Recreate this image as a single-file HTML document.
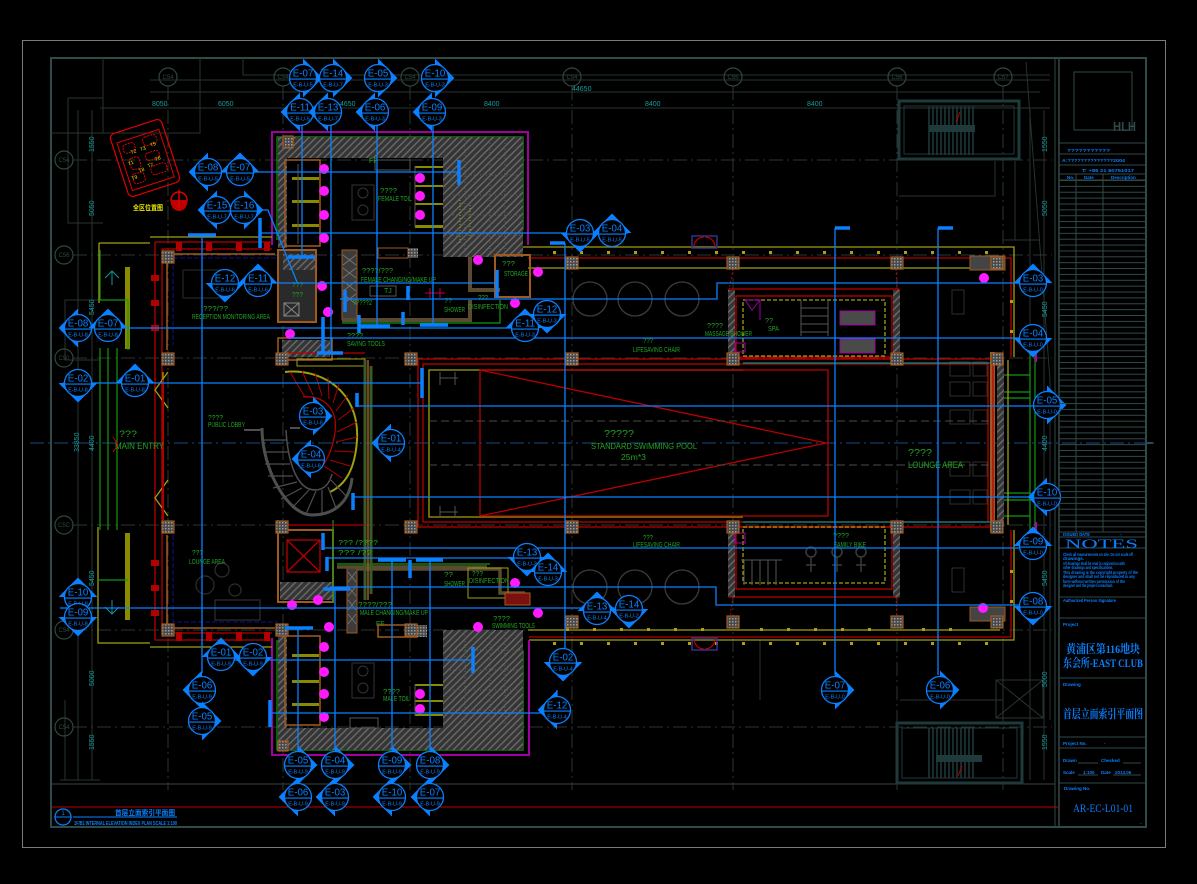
<!DOCTYPE html>
<html><head><meta charset="utf-8">
<style>
html,body{margin:0;padding:0;background:#000;width:1197px;height:884px;overflow:hidden}
svg{display:block}
.b{stroke:#0a80ff;stroke-width:1.3;fill:none}
.bb{stroke:#0a80ff;stroke-width:3.5;fill:none}
.mk .t{fill:#0a80ff}
.mk circle{fill:#000;stroke:#0a80ff;stroke-width:1.2}
.mk line{stroke:#0a80ff;stroke-width:1}
.mk text{fill:#0a80ff;font-family:"Liberation Sans",sans-serif;text-anchor:middle}
.g{fill:#23a323;font-family:"Liberation Sans",sans-serif;font-size:7px}
.d{fill:#1a9c9c;font-family:"Liberation Sans",sans-serif;font-size:7px}
.tb{fill:#0a80ff;font-family:"Liberation Sans",sans-serif;font-size:4.5px;font-weight:bold}
.grid{stroke:#2c3633;stroke-width:1;stroke-dasharray:14 4 2 4;fill:none}
.dim{stroke:#27332f;stroke-width:1;fill:none}
.red{stroke:#b80000;fill:none;stroke-width:1.3}
.yel{stroke:#a0a010;fill:none;stroke-width:1.3}
.brn{stroke:#a05a20;fill:none;stroke-width:1.5}
.grn{stroke:#109a10;fill:none;stroke-width:1.2}
.mag{stroke:#a000a0;fill:none;stroke-width:2}
.gry{stroke:#555;fill:none;stroke-width:1}
.md{fill:#ff1aff}
.col{fill:url(#colp);stroke:#a05a20;stroke-width:1.2}
</style></head>
<body>
<svg width="1197" height="884" viewBox="0 0 1197 884" xmlns="http://www.w3.org/2000/svg">
<defs>
<pattern id="hat" width="5" height="5" patternUnits="userSpaceOnUse" patternTransform="rotate(45)"><rect width="5" height="5" fill="#353535"/><rect width="1.4" height="5" fill="#6a6a6a"/></pattern>
<pattern id="colp" width="3" height="3" patternUnits="userSpaceOnUse"><rect width="3" height="3" fill="#4a4a4a"/><rect width="1.5" height="1.5" fill="#9a9a9a"/></pattern>
<pattern id="rows" x="0" y="180" width="10" height="5.87" patternUnits="userSpaceOnUse"><rect width="10" height="1" fill="#2f4a48"/></pattern>
</defs>

<rect width="1197" height="884" fill="#000"/>
<!-- frames -->
<rect x="22.5" y="40.5" width="1143" height="807" fill="none" stroke="#7a7a7a" stroke-width="1"/>
<rect x="51" y="58" width="1095" height="769" fill="none" stroke="#2f4a48" stroke-width="2"/>
<line x1="1055" y1="58" x2="1055" y2="827" stroke="#2f4a48" stroke-width="1"/>
<line x1="1059" y1="58" x2="1059" y2="827" stroke="#2f4a48" stroke-width="1.5"/>
<line x1="51" y1="784" x2="1055" y2="784" stroke="#3a4644" stroke-width="1"/>
<line x1="52" y1="807" x2="1059" y2="807" stroke="#c00000" stroke-width="1"/>
<line x1="1146" y1="443" x2="1153" y2="443" stroke="#2f4a48" stroke-width="2"/>

<!-- faint site lines -->
<path class="dim" d="M51,133 H103 V58 M200,58 V133 H103 M68,98 H103 M68,98 V223 H103 M243,58 V75 H1050 M100,300 H65 V360 H100 M65,700 V780 M100,780 H60"/>
<path class="dim" d="M899,196 H995 V161 M1015,161 V240 M1026,62 L1050,380 V720 M1003,240 H1040 M996,680 H1043 V718 H996 Z M996,680 L1043,718 M1043,680 L996,718 M1003,645 V723 M760,640 V700 M900,700 H1003"/>
<!-- grid -->
<path class="grid" d="M168,86 V790 M283,86 V790 M410,86 V790 M572,86 V790 M733,86 V790 M897,86 V790 M1003,86 V790"/>
<path class="grid" d="M73,160 H1052 M73,255 H1052 M73,358 H1052 M73,525 H1052 M73,630 H1052 M73,727 H1052"/>
<line x1="30" y1="443" x2="1155" y2="443" stroke="#1a4a8a" stroke-width="1" stroke-dasharray="14 4 2 4"/>
<g fill="none" stroke="#2e4a3c" stroke-width="1.2">
<circle cx="168" cy="77" r="9"/><circle cx="283" cy="77" r="9"/><circle cx="410" cy="77" r="9"/><circle cx="572" cy="77" r="9"/><circle cx="733" cy="77" r="9"/><circle cx="897" cy="77" r="9"/><circle cx="1003" cy="77" r="9"/>
<circle cx="64" cy="160" r="9"/><circle cx="64" cy="255" r="9"/><circle cx="64" cy="358" r="9"/><circle cx="64" cy="525" r="9"/><circle cx="64" cy="630" r="9"/><circle cx="64" cy="727" r="9"/>
</g>
<g font-family="Liberation Sans,sans-serif" font-size="6" fill="#2e4a3c" text-anchor="middle">
<text x="168" y="79">C54</text><text x="283" y="79">C54</text><text x="410" y="79">C54</text><text x="572" y="79">C54</text><text x="733" y="79">C55</text><text x="897" y="79">C56</text><text x="1003" y="79">C57</text>
<text x="64" y="162">C54</text><text x="64" y="257">C56</text><text x="64" y="360">C50</text><text x="64" y="527">C5C</text><text x="64" y="632">C54</text><text x="64" y="729">C54</text>
</g>
<!-- dimensions -->
<path class="dim" d="M150,80 H1050 M150,92 H1040 M100,108 H1050 M78,110 V780 M92,110 V780 M1030,110 V780 M1044,110 V780"/>
<text class="d" x="572" y="91">44650</text>
<text class="d" x="152" y="106">8050</text><text class="d" x="218" y="106">6050</text><text class="d" x="340" y="106">4650</text><text class="d" x="484" y="106">8400</text><text class="d" x="645" y="106">8400</text><text class="d" x="807" y="106">8400</text>
<g class="d">
<text transform="translate(94,152) rotate(-90)">1550</text><text transform="translate(94,216) rotate(-90)">5050</text><text transform="translate(94,315) rotate(-90)">5450</text>
<text transform="translate(79,452) rotate(-90)">33850</text><text transform="translate(94,451) rotate(-90)">4400</text>
<text transform="translate(94,586) rotate(-90)">5450</text><text transform="translate(94,686) rotate(-90)">5000</text><text transform="translate(94,750) rotate(-90)">1550</text>
<text transform="translate(1047,152) rotate(-90)">1550</text><text transform="translate(1047,216) rotate(-90)">5050</text><text transform="translate(1047,317) rotate(-90)">5450</text>
<text transform="translate(1047,451) rotate(-90)">4400</text><text transform="translate(1047,586) rotate(-90)">5450</text><text transform="translate(1047,687) rotate(-90)">5000</text><text transform="translate(1047,750) rotate(-90)">1550</text>
</g>

<!-- adjacent stairs -->
<g stroke="#1f3a3a" fill="none">
<rect x="899" y="101" width="120" height="58" stroke-width="3"/><rect x="904" y="106" width="110" height="48" stroke-width="1"/>
<path stroke-width="1.5" d="M929,106V155M933,106V155M937,106V155M941,106V155M945,106V155M949,106V155M953,106V155M957,106V155M961,106V155M965,106V155M969,106V155M973,106V155"/>
<rect x="897" y="723" width="125" height="60" stroke-width="3"/><rect x="902" y="728" width="115" height="50" stroke-width="1"/>
<path stroke-width="1.5" d="M929,728V778M933,728V778M937,728V778M941,728V778M945,728V778M949,728V778M953,728V778M957,728V778M961,728V778M965,728V778M969,728V778M973,728V778"/>
</g>
<rect x="929" y="125" width="46" height="7" fill="#1f3a3a"/><rect x="936" y="755" width="46" height="7" fill="#1f3a3a"/>
<path d="M960,112 L956,122 M962,766 L958,776" stroke="#b00" stroke-width="1"/>

<!-- site key plan -->
<g transform="translate(145,158) rotate(-18)">
<rect x="-27" y="-33" width="54" height="66" rx="5" fill="none" stroke="#e00000" stroke-width="1.2"/>
<rect x="-22" y="-23" width="44" height="50" fill="none" stroke="#e00000" stroke-width="1"/>
<g fill="none" stroke="#e00000" stroke-width="1" stroke-dasharray="2 1">
<rect x="-18" y="-19" width="12" height="9" rx="3"/><rect x="3" y="-20" width="14" height="9" rx="3"/><rect x="-16" y="-4" width="10" height="12" rx="3"/><rect x="1" y="-4" width="14" height="8" rx="3"/><rect x="-18" y="12" width="12" height="10" rx="3"/><rect x="2" y="10" width="16" height="9" rx="3"/>
</g>
<g fill="#e8e800" font-family="Liberation Sans,sans-serif" font-size="5">
<text x="-12" y="-8">T2</text><text x="-2" y="-8">T3</text><text x="9" y="-9">T5</text><text x="-18" y="2">T1</text><text x="9" y="6">T6</text><text x="0" y="10">T7</text><text x="-10" y="12">T8</text><text x="-19" y="17">T9</text>
</g>
</g>
<circle cx="179" cy="200" r="8" fill="none" stroke="#e00000" stroke-width="1.5"/>
<path d="M171,200 H187 V203 A8,8 0 0 1 171,203 Z" fill="#c00000"/><path d="M179,190 V208" stroke="#e00000" stroke-width="1.5"/>
<text x="133" y="210" fill="#e8e800" font-family="'Liberation Sans','Noto Sans CJK SC',sans-serif" font-size="7" font-weight="bold" textLength="30" lengthAdjust="spacingAndGlyphs">全区位置图</text>

<!-- ===== BUILDING ===== -->
<path class="yel" d="M520,247 H1014 V357"/><path class="red" d="M528,258 H1011 V357"/>
<path class="yel" d="M529,640 H1014 V530"/><path class="red" d="M529,637 H1011 V530"/>
<path class="yel" stroke-width="1" d="M528,268 H1000 M528,630 H1000"/>
<g fill="#b0a010">
<rect x="553" y="251" width="3" height="3"/><rect x="580" y="251" width="3" height="3"/><rect x="607" y="251" width="3" height="3"/><rect x="634" y="251" width="3" height="3"/><rect x="661" y="251" width="3" height="3"/><rect x="688" y="251" width="3" height="3"/><rect x="715" y="251" width="3" height="3"/><rect x="742" y="251" width="3" height="3"/><rect x="769" y="251" width="3" height="3"/><rect x="796" y="251" width="3" height="3"/><rect x="823" y="251" width="3" height="3"/><rect x="850" y="251" width="3" height="3"/><rect x="877" y="251" width="3" height="3"/><rect x="904" y="251" width="3" height="3"/><rect x="931" y="251" width="3" height="3"/><rect x="958" y="251" width="3" height="3"/><rect x="985" y="251" width="3" height="3"/>
<rect x="553" y="642" width="3" height="3"/><rect x="580" y="642" width="3" height="3"/><rect x="607" y="642" width="3" height="3"/><rect x="634" y="642" width="3" height="3"/><rect x="661" y="642" width="3" height="3"/><rect x="688" y="642" width="3" height="3"/><rect x="715" y="642" width="3" height="3"/><rect x="742" y="642" width="3" height="3"/><rect x="769" y="642" width="3" height="3"/><rect x="796" y="642" width="3" height="3"/><rect x="823" y="642" width="3" height="3"/><rect x="850" y="642" width="3" height="3"/><rect x="877" y="642" width="3" height="3"/><rect x="904" y="642" width="3" height="3"/><rect x="931" y="642" width="3" height="3"/><rect x="958" y="642" width="3" height="3"/><rect x="985" y="642" width="3" height="3"/>
<rect x="566" y="628" width="3" height="3"/><rect x="593" y="628" width="3" height="3"/><rect x="620" y="628" width="3" height="3"/><rect x="647" y="628" width="3" height="3"/><rect x="674" y="628" width="3" height="3"/><rect x="701" y="628" width="3" height="3"/><rect x="760" y="628" width="3" height="3"/><rect x="787" y="628" width="3" height="3"/><rect x="814" y="628" width="3" height="3"/><rect x="841" y="628" width="3" height="3"/><rect x="868" y="628" width="3" height="3"/><rect x="922" y="628" width="3" height="3"/><rect x="949" y="628" width="3" height="3"/>
<rect x="1010" y="300" width="3" height="3"/><rect x="1010" y="330" width="3" height="3"/><rect x="1010" y="570" width="3" height="3"/><rect x="1010" y="600" width="3" height="3"/>
</g>
<rect x="692" y="236" width="25" height="12" fill="none" stroke="#303090" stroke-width="1.5"/><path d="M694,247 A10,10 0 0 1 704,237 M715,247 A10,10 0 0 0 705,237" class="red" stroke-width="1"/>
<rect x="692" y="638" width="25" height="12" fill="none" stroke="#303090" stroke-width="1.5"/><path d="M694,639 A10,10 0 0 0 704,649 M715,639 A10,10 0 0 1 705,649" class="red" stroke-width="1"/>

<!-- lounge bay east -->
<rect x="990" y="352" width="5" height="180" fill="#a05a20"/>
<rect x="997" y="357" width="7" height="170" fill="url(#hat)"/>
<path class="grn" d="M1030,352 V532 M1035,352 V532 M1004,375 H1030 M1004,392 H1030 M1004,398 H1030 M1004,493 H1030 M1004,500 H1030 M1004,516 H1030"/>
<path class="yel" d="M1008,360 V525" stroke-width="1"/>
<path d="M1036,350 V362 M1036,522 V535" stroke="#b000b0" stroke-width="2"/>
<g fill="none" stroke="#2e2e2e" stroke-width="1">
<rect x="950" y="362" width="20" height="14"/><rect x="973" y="362" width="14" height="14"/><rect x="950" y="382" width="20" height="14"/><rect x="973" y="382" width="14" height="14"/><rect x="950" y="410" width="20" height="14"/><rect x="973" y="410" width="14" height="14"/><rect x="950" y="462" width="20" height="14"/><rect x="973" y="462" width="14" height="14"/><rect x="950" y="490" width="20" height="14"/><rect x="973" y="490" width="14" height="14"/><rect x="952" y="290" width="12" height="24"/><rect x="952" y="568" width="12" height="24"/>
</g>
<rect x="970" y="256" width="35" height="14" fill="#444" stroke="#a05a20"/><rect x="970" y="607" width="35" height="14" fill="#444" stroke="#a05a20"/>

<!-- pool -->
<rect x="418" y="359" width="575" height="168" class="red"/>
<rect x="423" y="364" width="565" height="158" class="red" stroke-width="0.8"/>
<path class="yel" d="M743,370 H429 V517 H743"/>
<path d="M743,363 H1000 M743,522 H1000" stroke="#0a8a8a" stroke-width="1.2"/>
<rect x="480" y="370" width="348" height="146" class="red" stroke-width="1"/>
<path d="M480,370 L826,443 L480,516" class="red" stroke-width="1"/>
<path d="M429,421 H990 M429,465 H990" stroke="#4a4a4a" stroke-width="1" stroke-dasharray="8 4"/>
<path d="M440,372 V385 M455,372 V385 M440,378 H458 M440,506 V518 M455,506 V518 M440,512 H458" class="gry"/>

<!-- spa room -->
<rect x="729" y="289" width="170" height="70" class="red"/>
<rect x="736" y="296" width="156" height="61" class="red" stroke-width="0.8"/>
<rect x="743" y="300" width="142" height="56" class="yel" stroke-width="0.8" stroke-dasharray="4 2"/>
<rect x="728" y="290" width="7" height="69" fill="url(#hat)"/>
<rect x="893" y="290" width="7" height="69" fill="url(#hat)"/>
<path d="M745,300 H760 V320 M745,300 L752,310 L760,300" stroke="#a000a0" fill="none" stroke-width="1"/>
<rect x="840" y="311" width="35" height="14" fill="#4a4a4a" stroke="#a000a0"/><rect x="840" y="339" width="35" height="14" fill="#4a4a4a" stroke="#a000a0"/>
<path class="gry" d="M801,300 V336 M828,300 V336 M801,308 H828 M801,316 H828 M801,324 H828 M801,332 H828"/>
<path d="M733,269 L729,290 M896,269 L897,290" stroke="#b00" stroke-dasharray="2 2"/>
<!-- bike room -->
<rect x="729" y="527" width="170" height="70" class="red"/>
<rect x="736" y="527" width="156" height="62" class="red" stroke-width="0.8"/>
<rect x="743" y="527" width="142" height="56" class="yel" stroke-width="0.8" stroke-dasharray="4 2"/>
<rect x="728" y="527" width="7" height="70" fill="url(#hat)"/>
<rect x="893" y="527" width="7" height="70" fill="url(#hat)"/>
<path class="gry" stroke-width="1.3" d="M741,560 H782 M744,560 V585 M752,560 V585 M760,560 V585 M768,560 V585 M776,560 V585"/>
<g fill="none" stroke="#3a3a3a" stroke-width="1.5"><circle cx="811" cy="552" r="5"/><circle cx="837" cy="552" r="5"/><circle cx="861" cy="552" r="5"/><path d="M806,565 H816 M811,557 V572 M832,565 H842 M837,557 V572 M856,565 H866 M861,557 V572"/></g>
<path d="M733,597 L729,622 M896,597 L897,622" stroke="#b00" stroke-dasharray="2 2"/>
<g fill="none" stroke="#3c3c3c" stroke-width="1.3">
<circle cx="590" cy="299" r="17"/><circle cx="635" cy="299" r="17"/><circle cx="682" cy="299" r="17"/>
<circle cx="590" cy="587" r="17"/><circle cx="635" cy="587" r="17"/><circle cx="682" cy="587" r="17"/>
</g>
<path d="M735,343 H745 V352 H735 Z M735,533 H745 V543 H735 Z" stroke="#a000a0" fill="none"/>

<!-- north core (female) -->
<path class="mag" d="M272,245 V132 H528 V245"/>
<path class="grn" d="M277,240 V137 H523 V230"/>
<rect x="278" y="137" width="245" height="21" fill="url(#hat)"/>
<rect x="443" y="137" width="80" height="120" fill="url(#hat)"/>
<rect x="278" y="158" width="9" height="90" fill="url(#hat)"/>
<g fill="none" stroke="#555" stroke-dasharray="1 2" stroke-width="1.2"><path d="M450,175 H520 M450,195 H520 M450,215 H520 M450,235 H520 M465,140 V255 M490,140 V255 M505,140 V255"/></g>
<path d="M460,200 V245 M470,205 V240" stroke="#a0a000" stroke-dasharray="1 2"/>
<path class="brn" stroke-width="1" d="M285,160 H320 V246 H285 Z"/>
<g fill="#8a8a00"><rect x="292" y="177" width="27" height="3"/><rect x="292" y="200" width="27" height="3"/><rect x="292" y="224" width="27" height="3"/><rect x="415" y="166" width="28" height="2"/><rect x="415" y="185" width="28" height="2"/><rect x="415" y="203" width="28" height="2"/><rect x="415" y="225" width="28" height="3"/></g>
<path class="gry" d="M415,166 V227 M298,164 V244 M375,160 H410 V170 H375 Z"/>
<rect x="352" y="185" width="22" height="35" fill="none" stroke="#333"/><circle cx="363" cy="193" r="5" fill="none" stroke="#333"/><circle cx="363" cy="210" r="5" fill="none" stroke="#333"/>
<rect x="342" y="250" width="15" height="70" fill="#3c3c3c" stroke="#a05a20"/>
<path d="M343,255 L356,265 M356,255 L343,265 M343,268 L356,278 M356,268 L343,278 M343,281 L356,291 M356,281 L343,291 M343,294 L356,304 M356,294 L343,304" stroke="#777" stroke-width="0.8"/>
<path d="M342,320 H470 V300 M470,257 V290 H500" stroke="#5a4a30" stroke-width="4" fill="none"/>
<path d="M342,323 H500 V300" class="grn"/>
<rect x="495" y="255" width="35" height="42" fill="none" stroke="#a05a20" stroke-width="2"/>
<rect x="278" y="250" width="38" height="72" fill="#2a2a2a" stroke="#a05a20" stroke-width="2"/>
<rect x="283" y="254" width="32" height="16" fill="url(#hat)"/>
<rect x="284" y="303" width="15" height="13" fill="none" stroke="#888"/><path d="M284,303 L299,316 M299,303 L284,316" stroke="#888"/>
<rect x="378" y="248" width="30" height="10" fill="none" stroke="#a05a20"/><rect x="408" y="248" width="10" height="10" fill="url(#colp)"/>
<rect x="370" y="286" width="26" height="10" fill="none" stroke="#555"/>
<path d="M425,293 H445 M430,288 V298 M440,288 V298" stroke="#c00050" stroke-width="1"/>
<rect x="282" y="340" width="48" height="17" fill="url(#hat)"/>
<rect x="278" y="338" width="54" height="22" fill="none" stroke="#a05a20" stroke-width="1.5"/>
<rect x="297" y="359" width="68" height="7" fill="none" stroke="#a0a010"/>

<!-- south core (male) -->
<path class="mag" d="M272,638 V755 H529 V640"/>
<path class="grn" d="M277,640 V750 H523 V650"/>
<rect x="278" y="728" width="245" height="22" fill="url(#hat)"/>
<rect x="443" y="630" width="80" height="100" fill="url(#hat)"/>
<rect x="278" y="628" width="9" height="100" fill="url(#hat)"/>
<g fill="none" stroke="#555" stroke-dasharray="1 2" stroke-width="1.2"><path d="M450,650 H520 M450,670 H520 M450,690 H520 M450,710 H520 M465,632 V728 M490,632 V728 M505,632 V728"/></g>
<path class="brn" stroke-width="1" d="M285,636 H320 V725 H285 Z"/>
<g fill="#8a8a00"><rect x="292" y="654" width="27" height="3"/><rect x="292" y="680" width="27" height="3"/><rect x="292" y="703" width="27" height="3"/><rect x="415" y="684" width="28" height="2"/><rect x="415" y="700" width="28" height="2"/><rect x="415" y="714" width="28" height="2"/></g>
<path class="gry" d="M415,684 V716 M298,640 V722 M350,718 H378 V728 H350 Z"/>
<rect x="352" y="663" width="22" height="35" fill="none" stroke="#333"/><circle cx="363" cy="671" r="5" fill="none" stroke="#333"/><circle cx="363" cy="688" r="5" fill="none" stroke="#333"/>
<rect x="347" y="567" width="10" height="66" fill="#3c3c3c" stroke="#a05a20"/>
<path d="M348,572 L356,582 M356,572 L348,582 M348,586 L356,596 M356,586 L348,596 M348,600 L356,610 M356,600 L348,610 M348,614 L356,624 M356,614 L348,624" stroke="#777" stroke-width="0.8"/>
<path d="M337,567 H487 M357,569 H500 V593 H525" stroke="#5a4a30" stroke-width="3.5" fill="none"/>
<path class="grn" d="M337,564 H490"/>
<rect x="468" y="568" width="40" height="30" fill="none" stroke="#a0a010"/>
<rect x="378" y="625" width="39" height="12" fill="none" stroke="#a05a20" stroke-width="1.5"/><rect x="417" y="625" width="10" height="12" fill="url(#colp)"/>
<rect x="505" y="593" width="25" height="12" fill="#7a1010" stroke="#a05a20"/>
<rect x="278" y="530" width="55" height="72" fill="none" stroke="#a05a20" stroke-width="2"/>
<rect x="287" y="540" width="33" height="32" class="red"/><path d="M287,540 L320,572 M320,540 L287,572" class="red" stroke-width="0.8"/>
<rect x="280" y="582" width="52" height="18" fill="url(#hat)"/>
<path d="M278,520 V530 M333,520 V602" class="grn"/>

<!-- west wing -->
<path class="yel" d="M150,237 H272 M99,243 H150 M99,243 V303 M98,527 V643 H150 M150,647 H272"/>
<path class="red" stroke-width="2" d="M155,242 H272 M155,242 V640 H272"/>
<path class="red" d="M162,249 H272 M162,249 V633 H272"/>
<g fill="#b00000"><rect x="176" y="242" width="6" height="9"/><rect x="206" y="242" width="6" height="9"/><rect x="236" y="242" width="6" height="9"/><rect x="264" y="242" width="6" height="9"/><rect x="176" y="632" width="6" height="9"/><rect x="206" y="632" width="6" height="9"/><rect x="236" y="632" width="6" height="9"/><rect x="264" y="632" width="6" height="9"/>
<rect x="151" y="275" width="8" height="6"/><rect x="151" y="300" width="8" height="6"/><rect x="151" y="325" width="8" height="6"/><rect x="151" y="560" width="8" height="6"/><rect x="151" y="585" width="8" height="6"/><rect x="151" y="610" width="8" height="6"/></g>
<path class="brn" d="M167,262 V350 M167,535 V627 M168,254 H275 M168,628 H275"/>
<path d="M173,258 H278 M173,258 V345 M173,535 V622 H278" stroke="#101090" stroke-width="1" stroke-dasharray="5 2" fill="none"/>
<rect x="183" y="270" width="45" height="28" fill="none" stroke="#2e2e2e"/>
<path class="yel" stroke-width="1" d="M168,372 L155,390 L168,408 M168,480 L155,498 L168,516 M163,372 V520"/>
<path d="M163,380 V520" stroke="#b00000" stroke-width="2"/>
<rect x="125" y="267" width="5" height="82" fill="#8a8a00"/><rect x="125" y="533" width="5" height="87" fill="#8a8a00"/>
<path class="grn" d="M100,348 V530 M108,348 V530 M117,348 V530 M100,250 V300 M128,300 V350"/>
<path d="M105,278 L112,271 L119,278 M112,271 V285 M105,607 L112,614 L119,607 M112,614 V600" stroke="#0a9a9a" fill="none"/>
<path d="M99,300 H128 M99,580 H128" class="grn"/>
<g fill="none" stroke="#2e2e2e" stroke-width="1.2"><circle cx="222" cy="570" r="7"/><circle cx="205" cy="585" r="9"/><circle cx="235" cy="590" r="6"/><path d="M215,600 H260 V620 H215 Z"/></g>
<!-- stairs -->
<path d="M285,372 C320,368 360,390 357,440 C355,470 345,485 330,492" fill="none" stroke="#a0a010" stroke-width="2"/>
<path d="M303,397 C325,395 338,410 335,432 C333,450 325,465 318,470" fill="none" stroke="#b00000" stroke-width="1.3"/>
<path d="M290,372 L305,397 M302,371 L313,395 M315,373 L322,396 M328,377 L329,399 M339,384 L333,403 M348,395 L336,411 M354,408 L338,420 M357,422 L337,432 M357,437 L336,442 M355,452 L334,451 M350,466 L330,460 M342,478 L324,466" stroke="#b00000" stroke-width="1"/>
<path d="M262,428 C262,470 288,515 312,515 C336,515 350,500 352,478" fill="none" stroke="#4e4e4e" stroke-width="3"/>
<path d="M286,430 C288,465 298,490 315,490 C325,490 330,482 332,474" fill="none" stroke="#4e4e4e" stroke-width="1.5"/>
<path d="M262,440 H287 M263,452 H288 M265,464 H290 M268,476 H293 M273,488 L297,482 M281,499 L302,488 M292,508 L309,490 M306,514 L316,491 M322,513 L322,490 M336,508 L328,487 M346,496 L331,480" stroke="#4e4e4e" stroke-width="1.2"/>
<path d="M244,430 H262 M290,428 H300" stroke="#4e4e4e" stroke-width="2"/>
<path d="M365,360 V600 M371,366 V594" stroke="#3a5a2a" stroke-width="3" fill="none"/>
<path class="brn" d="M368,360 V600"/>
<path class="red" d="M285,525 H365 M285,353 H365"/>

<!-- columns -->
<g class="col">
<rect x="566" y="257" width="12" height="12"/><rect x="727" y="257" width="12" height="12"/><rect x="891" y="257" width="12" height="12"/><rect x="991" y="257" width="12" height="12"/>
<rect x="405" y="353" width="12" height="12"/><rect x="566" y="353" width="12" height="12"/><rect x="727" y="353" width="12" height="12"/><rect x="891" y="353" width="12" height="12"/><rect x="991" y="353" width="12" height="12"/>
<rect x="405" y="521" width="12" height="12"/><rect x="566" y="521" width="12" height="12"/><rect x="727" y="521" width="12" height="12"/><rect x="891" y="521" width="12" height="12"/><rect x="991" y="521" width="12" height="12"/>
<rect x="405" y="624" width="12" height="12"/><rect x="566" y="616" width="12" height="12"/><rect x="727" y="616" width="12" height="12"/><rect x="891" y="616" width="12" height="12"/><rect x="991" y="616" width="12" height="12"/>
<rect x="162" y="251" width="12" height="12"/><rect x="162" y="353" width="12" height="12"/><rect x="162" y="521" width="12" height="12"/><rect x="162" y="624" width="12" height="12"/>
<rect x="276" y="353" width="12" height="12"/><rect x="276" y="521" width="12" height="12"/><rect x="276" y="624" width="12" height="12"/><rect x="283" y="136" width="10" height="12"/><rect x="278" y="741" width="10" height="10"/>
</g>

<!-- magenta fixture dots -->
<g class="md">
<circle cx="324" cy="169" r="5"/><circle cx="324" cy="191" r="5"/><circle cx="324" cy="215" r="5"/><circle cx="324" cy="238" r="5"/>
<circle cx="420" cy="178" r="5"/><circle cx="420" cy="196" r="5"/><circle cx="420" cy="215" r="5"/>
<circle cx="478" cy="260" r="5"/><circle cx="538" cy="272" r="5"/><circle cx="515" cy="303" r="5"/><circle cx="322" cy="286" r="5"/><circle cx="328" cy="312" r="5"/><circle cx="290" cy="334" r="5"/>
<circle cx="292" cy="605" r="5"/><circle cx="318" cy="600" r="5"/><circle cx="329" cy="627" r="5"/><circle cx="324" cy="647" r="5"/><circle cx="324" cy="672" r="5"/><circle cx="324" cy="694" r="5"/><circle cx="324" cy="717" r="5"/>
<circle cx="420" cy="694" r="5"/><circle cx="420" cy="709" r="5"/><circle cx="515" cy="583" r="5"/><circle cx="478" cy="627" r="5"/><circle cx="538" cy="613" r="5"/><circle cx="984" cy="278" r="5"/><circle cx="983" cy="608" r="5"/>
</g>

<!-- green labels -->
<g class="g">
<text x="380" y="193" textLength="17" lengthAdjust="spacingAndGlyphs">????</text>
<text x="378" y="201" textLength="34" lengthAdjust="spacingAndGlyphs">FEMALE TOIL</text>
<text x="362" y="273" textLength="31" lengthAdjust="spacingAndGlyphs">????/???</text>
<text x="361" y="282" textLength="75" lengthAdjust="spacingAndGlyphs">FEMALE CHANGING/MAKE UP</text>
<text x="502" y="266" textLength="13" lengthAdjust="spacingAndGlyphs">???</text>
<text x="504" y="276" textLength="24" lengthAdjust="spacingAndGlyphs">STORAGE</text>
<text x="444" y="303" textLength="8" lengthAdjust="spacingAndGlyphs">??</text>
<text x="444" y="312" textLength="21" lengthAdjust="spacingAndGlyphs">SHOWER</text>
<text x="478" y="300" textLength="10" lengthAdjust="spacingAndGlyphs">???</text>
<text x="468" y="309" textLength="40" lengthAdjust="spacingAndGlyphs">DISINFECTION</text>
<text x="707" y="328" textLength="16" lengthAdjust="spacingAndGlyphs">????</text>
<text x="705" y="336" textLength="47" lengthAdjust="spacingAndGlyphs">MASSAGE SHOWER</text>
<text x="765" y="323" textLength="8" lengthAdjust="spacingAndGlyphs">??</text>
<text x="768" y="331" textLength="11" lengthAdjust="spacingAndGlyphs">SPA</text>
<text x="643" y="343" textLength="10" lengthAdjust="spacingAndGlyphs">???</text>
<text x="633" y="352" textLength="47" lengthAdjust="spacingAndGlyphs">LIFESAVING CHAIR</text>
<text x="604" y="437" font-size="10" textLength="30" lengthAdjust="spacingAndGlyphs">?????</text>
<text x="591" y="449" font-size="8.5" textLength="106" lengthAdjust="spacingAndGlyphs">STANDARD SWIMMING POOL</text>
<text x="621" y="460" font-size="8.5" textLength="25" lengthAdjust="spacingAndGlyphs">25m*3</text>
<text x="643" y="540" textLength="10" lengthAdjust="spacingAndGlyphs">???</text>
<text x="633" y="547" textLength="47" lengthAdjust="spacingAndGlyphs">LIFESAVING CHAIR</text>
<text x="833" y="538" textLength="16" lengthAdjust="spacingAndGlyphs">????</text>
<text x="834" y="547" textLength="32" lengthAdjust="spacingAndGlyphs">FAMILY BIKE</text>
<text x="908" y="456" font-size="10" textLength="24" lengthAdjust="spacingAndGlyphs">????</text>
<text x="908" y="468" font-size="9" textLength="55" lengthAdjust="spacingAndGlyphs">LOUNGE AREA</text>
<text x="203" y="311" textLength="25" lengthAdjust="spacingAndGlyphs">???/??</text>
<text x="192" y="319" textLength="78" lengthAdjust="spacingAndGlyphs">RECEPTION MONITORING AREA</text>
<text x="208" y="420" textLength="15" lengthAdjust="spacingAndGlyphs">????</text>
<text x="208" y="427" textLength="37" lengthAdjust="spacingAndGlyphs">PUBLIC LOBBY</text>
<text x="119" y="437" font-size="9" textLength="18" lengthAdjust="spacingAndGlyphs">???</text>
<text x="115" y="449" font-size="9" textLength="49" lengthAdjust="spacingAndGlyphs">MAIN ENTRY</text>
<text x="192" y="555" textLength="11" lengthAdjust="spacingAndGlyphs">???</text>
<text x="189" y="564" textLength="36" lengthAdjust="spacingAndGlyphs">LOUNGE AREA</text>
<text x="338" y="545" textLength="40" lengthAdjust="spacingAndGlyphs">??? /????</text>
<text x="338" y="555" textLength="34" lengthAdjust="spacingAndGlyphs">??? /??</text>
<text x="444" y="577" textLength="9" lengthAdjust="spacingAndGlyphs">??</text>
<text x="444" y="586" textLength="21" lengthAdjust="spacingAndGlyphs">SHOWER</text>
<text x="472" y="576" textLength="11" lengthAdjust="spacingAndGlyphs">???</text>
<text x="469" y="583" textLength="40" lengthAdjust="spacingAndGlyphs">DISINFECTION</text>
<text x="358" y="607" textLength="34" lengthAdjust="spacingAndGlyphs">????/???</text>
<text x="360" y="615" textLength="68" lengthAdjust="spacingAndGlyphs">MALE CHANGING/MAKE UP</text>
<text x="383" y="694" textLength="17" lengthAdjust="spacingAndGlyphs">????</text>
<text x="383" y="701" textLength="27" lengthAdjust="spacingAndGlyphs">MALE TOIL</text>
<text x="493" y="621" textLength="17" lengthAdjust="spacingAndGlyphs">????</text>
<text x="492" y="628" textLength="43" lengthAdjust="spacingAndGlyphs">SWIMMING TOOLS</text>
<text x="347" y="338" textLength="16" lengthAdjust="spacingAndGlyphs">????</text>
<text x="347" y="346" textLength="38" lengthAdjust="spacingAndGlyphs">SAVING TOOLS</text>
<text x="292" y="287" textLength="11" lengthAdjust="spacingAndGlyphs">???</text>
<text x="292" y="297" textLength="11" lengthAdjust="spacingAndGlyphs">???</text>
<text x="353" y="305" textLength="19" lengthAdjust="spacingAndGlyphs">?????2</text>
<text x="369" y="163">FF</text><text x="376" y="626">FF</text><text x="384" y="293">TJ</text>
</g>
<path d="M113,437 L118,445 L113,452" stroke="#c00" fill="none"/>

<!-- ===== BLUE SECTION LINES ===== -->
<g class="b">
<path d="M195,172 H459"/>
<path d="M260,233 H628"/>
<path d="M262,210 H268 L297,282"/>
<path d="M212,283 H497"/>
<path d="M340,299 H717 V283 H1033"/>
<path d="M60,328 H525"/>
<path d="M290,338 H1033"/>
<path d="M63,383 H422"/>
<path d="M357,406 H1047"/>
<path d="M353,497 H1047"/>
<path d="M323,548 H1033"/>
<path d="M327,558 H527"/>
<path d="M330,587 H716 V605 H1033"/>
<path d="M60,608 H629"/>
<path d="M220,660 H473"/>
<path d="M270,713 H557"/>
<path d="M202,235 V673"/>
<path d="M302,112 V257"/>
<path d="M331,112 V353"/>
<path d="M377,112 V327"/>
<path d="M433,112 V325"/>
<path d="M565,243 V648"/>
<path d="M835,228 V675"/>
<path d="M938,228 V675"/>
<path d="M298,628 V750"/>
<path d="M335,589 V750"/>
<path d="M392,560 V750"/>
<path d="M430,560 V750"/>
<path d="M557,690 V710"/>
</g>
<g class="bb">
<path d="M188,235 H216"/><path d="M550,243 H565"/><path d="M835,228 H850"/><path d="M938,228 H953"/>
<path d="M288,257 H315"/><path d="M360,326 H390"/><path d="M420,325 H448"/><path d="M317,353 H343"/>
<path d="M285,628 H313"/><path d="M323,589 H350"/><path d="M378,560 H406"/><path d="M416,560 H443"/>
<path d="M459,160 V185"/><path d="M260,218 V248"/><path d="M497,270 V298"/><path d="M408,286 V300"/><path d="M403,312 V325"/><path d="M359,315 V333"/><path d="M323,317 V353"/>
<path d="M422,368 V398"/><path d="M357,393 V407"/><path d="M353,493 V510"/><path d="M323,533 V550"/><path d="M327,557 V571"/><path d="M473,647 V673"/><path d="M270,700 V727"/><path d="M345,290 V312"/><path d="M410,560 V578"/>
</g>

<!-- ===== MARKERS ===== -->
<g class="mk">
<g transform="translate(303,78) scale(1.08)"><path class="t" d="M0-18L18 0L0 18Z"/><circle r="12.5"/><line x1="-12" y1="1" x2="12" y2="1"/><text y="-1.5" font-size="9">E-07</text><text y="8" font-size="5">E-B-U-5</text></g>
<g transform="translate(333,78) scale(1.08)"><path class="t" d="M0-18L18 0L0 18Z"/><circle r="12.5"/><line x1="-12" y1="1" x2="12" y2="1"/><text y="-1.5" font-size="9">E-14</text><text y="8" font-size="5">E-B-U-7</text></g>
<g transform="translate(378,78) scale(1.08)"><path class="t" d="M0-18L18 0L0 18Z"/><circle r="12.5"/><line x1="-12" y1="1" x2="12" y2="1"/><text y="-1.5" font-size="9">E-05</text><text y="8" font-size="5">E-B-U-3</text></g>
<g transform="translate(435,78) scale(1.08)"><path class="t" d="M0-18L18 0L0 18Z"/><circle r="12.5"/><line x1="-12" y1="1" x2="12" y2="1"/><text y="-1.5" font-size="9">E-10</text><text y="8" font-size="5">E-B-U-3</text></g>
<g transform="translate(300,112) scale(1.08)"><path class="t" d="M0-18L-18 0L0 18Z"/><circle r="12.5"/><line x1="-12" y1="1" x2="12" y2="1"/><text y="-1.5" font-size="9">E-11</text><text y="8" font-size="5">E-B-U-5</text></g>
<g transform="translate(328,112) scale(1.08)"><path class="t" d="M0-18L-18 0L0 18Z"/><circle r="12.5"/><line x1="-12" y1="1" x2="12" y2="1"/><text y="-1.5" font-size="9">E-13</text><text y="8" font-size="5">E-B-U-7</text></g>
<g transform="translate(375,112) scale(1.08)"><path class="t" d="M0-18L-18 0L0 18Z"/><circle r="12.5"/><line x1="-12" y1="1" x2="12" y2="1"/><text y="-1.5" font-size="9">E-06</text><text y="8" font-size="5">E-B-U-3</text></g>
<g transform="translate(432,112) scale(1.08)"><path class="t" d="M0-18L-18 0L0 18Z"/><circle r="12.5"/><line x1="-12" y1="1" x2="12" y2="1"/><text y="-1.5" font-size="9">E-09</text><text y="8" font-size="5">E-B-U-3</text></g>
<g transform="translate(208,172) scale(1.08)"><path class="t" d="M0-18L-18 0L0 18Z"/><circle r="12.5"/><line x1="-12" y1="1" x2="12" y2="1"/><text y="-1.5" font-size="9">E-08</text><text y="8" font-size="5">E-B-U-5</text></g>
<g transform="translate(240,172) scale(1.08)"><path class="t" d="M-18 0L0-18L18 0Z"/><circle r="12.5"/><line x1="-12" y1="1" x2="12" y2="1"/><text y="-1.5" font-size="9">E-07</text><text y="8" font-size="5">E-B-U-5</text></g>
<g transform="translate(217,210) scale(1.08)"><path class="t" d="M0-18L-18 0L0 18Z"/><circle r="12.5"/><line x1="-12" y1="1" x2="12" y2="1"/><text y="-1.5" font-size="9">E-15</text><text y="8" font-size="5">E-B-U-7</text></g>
<g transform="translate(244,210) scale(1.08)"><path class="t" d="M0-18L18 0L0 18Z"/><circle r="12.5"/><line x1="-12" y1="1" x2="12" y2="1"/><text y="-1.5" font-size="9">E-16</text><text y="8" font-size="5">E-B-U-7</text></g>
<g transform="translate(225,283) scale(1.08)"><path class="t" d="M-18 0L0 18L18 0Z"/><circle r="12.5"/><line x1="-12" y1="1" x2="12" y2="1"/><text y="-1.5" font-size="9">E-12</text><text y="8" font-size="5">E-B-U-6</text></g>
<g transform="translate(258,283) scale(1.08)"><path class="t" d="M-18 0L0-18L18 0Z"/><circle r="12.5"/><line x1="-12" y1="1" x2="12" y2="1"/><text y="-1.5" font-size="9">E-11</text><text y="8" font-size="5">E-B-U-6</text></g>
<g transform="translate(78,328) scale(1.08)"><path class="t" d="M0-18L-18 0L0 18Z"/><circle r="12.5"/><line x1="-12" y1="1" x2="12" y2="1"/><text y="-1.5" font-size="9">E-08</text><text y="8" font-size="5">E-B-U-8</text></g>
<g transform="translate(108,328) scale(1.08)"><path class="t" d="M-18 0L0-18L18 0Z"/><circle r="12.5"/><line x1="-12" y1="1" x2="12" y2="1"/><text y="-1.5" font-size="9">E-07</text><text y="8" font-size="5">E-B-U-8</text></g>
<g transform="translate(78,383) scale(1.08)"><path class="t" d="M-18 0L0 18L18 0Z"/><circle r="12.5"/><line x1="-12" y1="1" x2="12" y2="1"/><text y="-1.5" font-size="9">E-02</text><text y="8" font-size="5">E-B-U-8</text></g>
<g transform="translate(135,383) scale(1.08)"><path class="t" d="M-18 0L0-18L18 0Z"/><circle r="12.5"/><line x1="-12" y1="1" x2="12" y2="1"/><text y="-1.5" font-size="9">E-01</text><text y="8" font-size="5">E-B-U-8</text></g>
<g transform="translate(313,416) scale(1.08)"><path class="t" d="M0-18L18 0L0 18Z"/><circle r="12.5"/><line x1="-12" y1="1" x2="12" y2="1"/><text y="-1.5" font-size="9">E-03</text><text y="8" font-size="5">E-B-U-8</text></g>
<g transform="translate(311,459) scale(1.08)"><path class="t" d="M0-18L-18 0L0 18Z"/><circle r="12.5"/><line x1="-12" y1="1" x2="12" y2="1"/><text y="-1.5" font-size="9">E-04</text><text y="8" font-size="5">E-B-U-8</text></g>
<g transform="translate(391,443) scale(1.08)"><path class="t" d="M0-18L-18 0L0 18Z"/><circle r="12.5"/><line x1="-12" y1="1" x2="12" y2="1"/><text y="-1.5" font-size="9">E-01</text><text y="8" font-size="5">E-B-U-4</text></g>
<g transform="translate(580,233) scale(1.08)"><path class="t" d="M-18 0L0 18L18 0Z"/><circle r="12.5"/><line x1="-12" y1="1" x2="12" y2="1"/><text y="-1.5" font-size="9">E-03</text><text y="8" font-size="5">E-B-U-5</text></g>
<g transform="translate(612,233) scale(1.08)"><path class="t" d="M-18 0L0-18L18 0Z"/><circle r="12.5"/><line x1="-12" y1="1" x2="12" y2="1"/><text y="-1.5" font-size="9">E-04</text><text y="8" font-size="5">E-B-U-5</text></g>
<g transform="translate(525,328) scale(1.08)"><path class="t" d="M-18 0L0-18L18 0Z"/><circle r="12.5"/><line x1="-12" y1="1" x2="12" y2="1"/><text y="-1.5" font-size="9">E-11</text><text y="8" font-size="5">E-B-U-3</text></g>
<g transform="translate(547,314) scale(1.08)"><path class="t" d="M-18 0L0 18L18 0Z"/><circle r="12.5"/><line x1="-12" y1="1" x2="12" y2="1"/><text y="-1.5" font-size="9">E-12</text><text y="8" font-size="5">E-B-U-3</text></g>
<g transform="translate(527,557) scale(1.08)"><path class="t" d="M-18 0L0 18L18 0Z"/><circle r="12.5"/><line x1="-12" y1="1" x2="12" y2="1"/><text y="-1.5" font-size="9">E-13</text><text y="8" font-size="5">E-B-U-3</text></g>
<g transform="translate(548,572) scale(1.08)"><path class="t" d="M-18 0L0-18L18 0Z"/><circle r="12.5"/><line x1="-12" y1="1" x2="12" y2="1"/><text y="-1.5" font-size="9">E-14</text><text y="8" font-size="5">E-B-U-3</text></g>
<g transform="translate(597,611) scale(1.08)"><path class="t" d="M-18 0L0-18L18 0Z"/><circle r="12.5"/><line x1="-12" y1="1" x2="12" y2="1"/><text y="-1.5" font-size="9">E-13</text><text y="8" font-size="5">E-B-U-4</text></g>
<g transform="translate(629,609) scale(1.08)"><path class="t" d="M-18 0L0 18L18 0Z"/><circle r="12.5"/><line x1="-12" y1="1" x2="12" y2="1"/><text y="-1.5" font-size="9">E-14</text><text y="8" font-size="5">E-B-U-2</text></g>
<g transform="translate(78,597) scale(1.08)"><path class="t" d="M-18 0L0-18L18 0Z"/><circle r="12.5"/><line x1="-12" y1="1" x2="12" y2="1"/><text y="-1.5" font-size="9">E-10</text><text y="8" font-size="5">E-B-U-8</text></g>
<g transform="translate(78,617) scale(1.08)"><path class="t" d="M-18 0L0 18L18 0Z"/><circle r="12.5"/><line x1="-12" y1="1" x2="12" y2="1"/><text y="-1.5" font-size="9">E-09</text><text y="8" font-size="5">E-B-U-8</text></g>
<g transform="translate(221,657) scale(1.08)"><path class="t" d="M-18 0L0-18L18 0Z"/><circle r="12.5"/><line x1="-12" y1="1" x2="12" y2="1"/><text y="-1.5" font-size="9">E-01</text><text y="8" font-size="5">E-B-U-9</text></g>
<g transform="translate(253,657) scale(1.08)"><path class="t" d="M-18 0L0 18L18 0Z"/><circle r="12.5"/><line x1="-12" y1="1" x2="12" y2="1"/><text y="-1.5" font-size="9">E-02</text><text y="8" font-size="5">E-B-U-9</text></g>
<g transform="translate(202,690) scale(1.08)"><path class="t" d="M0-18L-18 0L0 18Z"/><circle r="12.5"/><line x1="-12" y1="1" x2="12" y2="1"/><text y="-1.5" font-size="9">E-06</text><text y="8" font-size="5">E-B-U-9</text></g>
<g transform="translate(202,721) scale(1.08)"><path class="t" d="M0-18L18 0L0 18Z"/><circle r="12.5"/><line x1="-12" y1="1" x2="12" y2="1"/><text y="-1.5" font-size="9">E-05</text><text y="8" font-size="5">E-B-U-9</text></g>
<g transform="translate(298,765) scale(1.08)"><path class="t" d="M0-18L18 0L0 18Z"/><circle r="12.5"/><line x1="-12" y1="1" x2="12" y2="1"/><text y="-1.5" font-size="9">E-05</text><text y="8" font-size="5">E-B-U-9</text></g>
<g transform="translate(335,765) scale(1.08)"><path class="t" d="M0-18L18 0L0 18Z"/><circle r="12.5"/><line x1="-12" y1="1" x2="12" y2="1"/><text y="-1.5" font-size="9">E-04</text><text y="8" font-size="5">E-B-U-9</text></g>
<g transform="translate(392,765) scale(1.08)"><path class="t" d="M0-18L18 0L0 18Z"/><circle r="12.5"/><line x1="-12" y1="1" x2="12" y2="1"/><text y="-1.5" font-size="9">E-09</text><text y="8" font-size="5">E-B-U-9</text></g>
<g transform="translate(430,765) scale(1.08)"><path class="t" d="M0-18L18 0L0 18Z"/><circle r="12.5"/><line x1="-12" y1="1" x2="12" y2="1"/><text y="-1.5" font-size="9">E-08</text><text y="8" font-size="5">E-B-U-9</text></g>
<g transform="translate(298,797) scale(1.08)"><path class="t" d="M0-18L-18 0L0 18Z"/><circle r="12.5"/><line x1="-12" y1="1" x2="12" y2="1"/><text y="-1.5" font-size="9">E-06</text><text y="8" font-size="5">E-B-U-9</text></g>
<g transform="translate(335,797) scale(1.08)"><path class="t" d="M0-18L-18 0L0 18Z"/><circle r="12.5"/><line x1="-12" y1="1" x2="12" y2="1"/><text y="-1.5" font-size="9">E-03</text><text y="8" font-size="5">E-B-U-9</text></g>
<g transform="translate(392,797) scale(1.08)"><path class="t" d="M0-18L-18 0L0 18Z"/><circle r="12.5"/><line x1="-12" y1="1" x2="12" y2="1"/><text y="-1.5" font-size="9">E-10</text><text y="8" font-size="5">E-B-U-9</text></g>
<g transform="translate(430,797) scale(1.08)"><path class="t" d="M0-18L-18 0L0 18Z"/><circle r="12.5"/><line x1="-12" y1="1" x2="12" y2="1"/><text y="-1.5" font-size="9">E-07</text><text y="8" font-size="5">E-B-U-9</text></g>
<g transform="translate(563,662) scale(1.08)"><path class="t" d="M-18 0L0 18L18 0Z"/><circle r="12.5"/><line x1="-12" y1="1" x2="12" y2="1"/><text y="-1.5" font-size="9">E-02</text><text y="8" font-size="5">E-B-U-4</text></g>
<g transform="translate(557,710) scale(1.08)"><path class="t" d="M0-18L-18 0L0 18Z"/><circle r="12.5"/><line x1="-12" y1="1" x2="12" y2="1"/><text y="-1.5" font-size="9">E-12</text><text y="8" font-size="5">E-B-U-4</text></g>
<g transform="translate(835,690) scale(1.08)"><path class="t" d="M0-18L18 0L0 18Z"/><circle r="12.5"/><line x1="-12" y1="1" x2="12" y2="1"/><text y="-1.5" font-size="9">E-07</text><text y="8" font-size="5">E-B-U-0</text></g>
<g transform="translate(940,690) scale(1.08)"><path class="t" d="M0-18L18 0L0 18Z"/><circle r="12.5"/><line x1="-12" y1="1" x2="12" y2="1"/><text y="-1.5" font-size="9">E-06</text><text y="8" font-size="5">E-B-U-0</text></g>
<g transform="translate(1033,283) scale(1.08)"><path class="t" d="M-18 0L0-18L18 0Z"/><circle r="12.5"/><line x1="-12" y1="1" x2="12" y2="1"/><text y="-1.5" font-size="9">E-03</text><text y="8" font-size="5">E-B-U-0</text></g>
<g transform="translate(1033,338) scale(1.08)"><path class="t" d="M-18 0L0 18L18 0Z"/><circle r="12.5"/><line x1="-12" y1="1" x2="12" y2="1"/><text y="-1.5" font-size="9">E-04</text><text y="8" font-size="5">E-B-U-0</text></g>
<g transform="translate(1047,405) scale(1.08)"><path class="t" d="M0-18L18 0L0 18Z"/><circle r="12.5"/><line x1="-12" y1="1" x2="12" y2="1"/><text y="-1.5" font-size="9">E-05</text><text y="8" font-size="5">E-B-U-0</text></g>
<g transform="translate(1047,497) scale(1.08)"><path class="t" d="M0-18L-18 0L0 18Z"/><circle r="12.5"/><line x1="-12" y1="1" x2="12" y2="1"/><text y="-1.5" font-size="9">E-10</text><text y="8" font-size="5">E-B-U-0</text></g>
<g transform="translate(1033,546) scale(1.08)"><path class="t" d="M-18 0L0-18L18 0Z"/><circle r="12.5"/><line x1="-12" y1="1" x2="12" y2="1"/><text y="-1.5" font-size="9">E-09</text><text y="8" font-size="5">E-B-U-0</text></g>
<g transform="translate(1033,606) scale(1.08)"><path class="t" d="M-18 0L0 18L18 0Z"/><circle r="12.5"/><line x1="-12" y1="1" x2="12" y2="1"/><text y="-1.5" font-size="9">E-08</text><text y="8" font-size="5">E-B-U-0</text></g>
</g>

<!-- bottom drawing title -->
<circle cx="63" cy="817" r="8" fill="none" stroke="#0a80ff" stroke-width="1.3"/>
<line x1="55" y1="817" x2="71" y2="817" stroke="#0a80ff"/>
<text x="63" y="815" font-size="6" fill="#0a80ff" text-anchor="middle" font-family="Liberation Sans,sans-serif">1</text>
<line x1="73" y1="817" x2="177" y2="817" stroke="#0a80ff" stroke-width="1"/>
<text x="115" y="815" fill="#0a80ff" font-family="'Liberation Sans','Noto Sans CJK SC',sans-serif" font-size="7" font-weight="bold" textLength="60" lengthAdjust="spacingAndGlyphs">首层立面索引平面图</text>
<text x="74" y="825" fill="#0a80ff" font-family="Liberation Sans,sans-serif" font-size="5" font-weight="bold" textLength="103" lengthAdjust="spacingAndGlyphs">1F/B1 INTERNAL ELEVATION INDEX PLAN  SCALE 1:100</text>

<!-- ===== TITLE BLOCK ===== -->
<rect x="1074" y="72" width="58" height="58" fill="none" stroke="#2f4a48" stroke-width="1"/>
<text x="1113" y="131" fill="#2f4a48" font-family="Liberation Sans,sans-serif" font-size="13" font-weight="bold" textLength="23" lengthAdjust="spacingAndGlyphs">HLH</text>
<g stroke="#2f4a48" stroke-width="1">
<line x1="1059" y1="143" x2="1146" y2="143"/><line x1="1059" y1="154" x2="1146" y2="154"/><line x1="1059" y1="165" x2="1146" y2="165"/><line x1="1059" y1="174" x2="1146" y2="174"/><line x1="1059" y1="180" x2="1146" y2="180"/>
<line x1="1076" y1="174" x2="1076" y2="532"/><line x1="1103" y1="174" x2="1103" y2="532"/>
<line x1="1059" y1="532" x2="1146" y2="532"/><line x1="1059" y1="537" x2="1146" y2="537"/><line x1="1059" y1="548" x2="1146" y2="548"/><line x1="1059" y1="597" x2="1146" y2="597"/><line x1="1059" y1="618" x2="1146" y2="618"/><line x1="1059" y1="678" x2="1146" y2="678"/><line x1="1059" y1="737" x2="1146" y2="737"/><line x1="1059" y1="748" x2="1146" y2="748"/><line x1="1059" y1="783" x2="1146" y2="783"/>
</g>
<rect x="1059" y="180" width="87" height="352" fill="url(#rows)"/>
<text class="tb" x="1067" y="152" font-size="6" textLength="43" lengthAdjust="spacingAndGlyphs">???????????</text>
<text class="tb" x="1062" y="162" font-size="6" textLength="63" lengthAdjust="spacingAndGlyphs">A:??????????????2004</text>
<text class="tb" x="1082" y="172" font-size="6" textLength="52" lengthAdjust="spacingAndGlyphs">T: +86 21 60751017</text>
<text class="tb" x="1067" y="179" font-size="3.8">No.</text><text class="tb" x="1084" y="179" font-size="3.8">Date</text><text class="tb" x="1111" y="179" font-size="3.8">Description</text>
<text class="tb" x="1063" y="536" textLength="27" lengthAdjust="spacingAndGlyphs">ISSUED DATE</text><text class="tb" x="1120" y="536">-</text>
<text x="1065" y="548" fill="#0a80ff" font-family="Liberation Serif,serif" font-size="13" textLength="73" lengthAdjust="spacingAndGlyphs">NOTES</text>
<g class="tb" font-size="3.6">
<text x="1063" y="556" textLength="70" lengthAdjust="spacingAndGlyphs">Check all measurements on site. Do not scale off</text>
<text x="1063" y="560">drawings.</text>
<text x="1063" y="565" textLength="62" lengthAdjust="spacingAndGlyphs">All drawings shall be read in conjunction with</text>
<text x="1063" y="569" textLength="50" lengthAdjust="spacingAndGlyphs">other drawings and specifications.</text>
<text x="1063" y="574" textLength="75" lengthAdjust="spacingAndGlyphs">This drawing is the copyright property of the</text>
<text x="1063" y="578" textLength="72" lengthAdjust="spacingAndGlyphs">designer and shall not be reproduced in any</text>
<text x="1063" y="583" textLength="62" lengthAdjust="spacingAndGlyphs">form without written permission of the</text>
<text x="1063" y="587" textLength="50" lengthAdjust="spacingAndGlyphs">designer and the project consultant.</text>
</g>
<text class="tb" x="1063" y="602" textLength="53" lengthAdjust="spacingAndGlyphs">Authorized Person Signature</text>
<text class="tb" x="1063" y="626">Project</text>
<text x="1066" y="653" fill="#0a80ff" font-family="'Liberation Serif','Noto Serif CJK SC',serif" font-size="12" font-weight="bold" textLength="74" lengthAdjust="spacingAndGlyphs">黄浦区第116地块</text>
<text x="1063" y="667" fill="#0a80ff" font-family="'Liberation Serif','Noto Serif CJK SC',serif" font-size="12" font-weight="bold" textLength="80" lengthAdjust="spacingAndGlyphs">东会所-EAST CLUB</text>
<text class="tb" x="1063" y="686">Drawing</text>
<text x="1063" y="718" fill="#0a80ff" font-family="'Liberation Serif','Noto Serif CJK SC',serif" font-size="12" font-weight="bold" textLength="80" lengthAdjust="spacingAndGlyphs">首层立面索引平面图</text>
<text class="tb" x="1063" y="745">Project No.</text><text class="tb" x="1104" y="745">-</text>
<text class="tb" x="1063" y="762">Drawn</text><line x1="1078" y1="763" x2="1098" y2="763" stroke="#2f4a48"/>
<text class="tb" x="1101" y="762">Checked</text><line x1="1123" y1="763" x2="1141" y2="763" stroke="#2f4a48"/>
<text class="tb" x="1063" y="774">Scale</text><text class="tb" x="1083" y="774">1:100</text><line x1="1078" y1="775" x2="1098" y2="775" stroke="#2f4a48"/>
<text class="tb" x="1101" y="774">Date</text><text class="tb" x="1115" y="774">2013.06</text><line x1="1113" y1="775" x2="1141" y2="775" stroke="#2f4a48"/>
<text class="tb" x="1064" y="790">Drawing No.</text>
<text x="1073" y="812" fill="#0a80ff" font-family="Liberation Serif,serif" font-size="12" textLength="60" lengthAdjust="spacingAndGlyphs">AR-EC-L01-01</text>
<text class="tb" x="1140" y="825">-</text>
</svg>
</body></html>
